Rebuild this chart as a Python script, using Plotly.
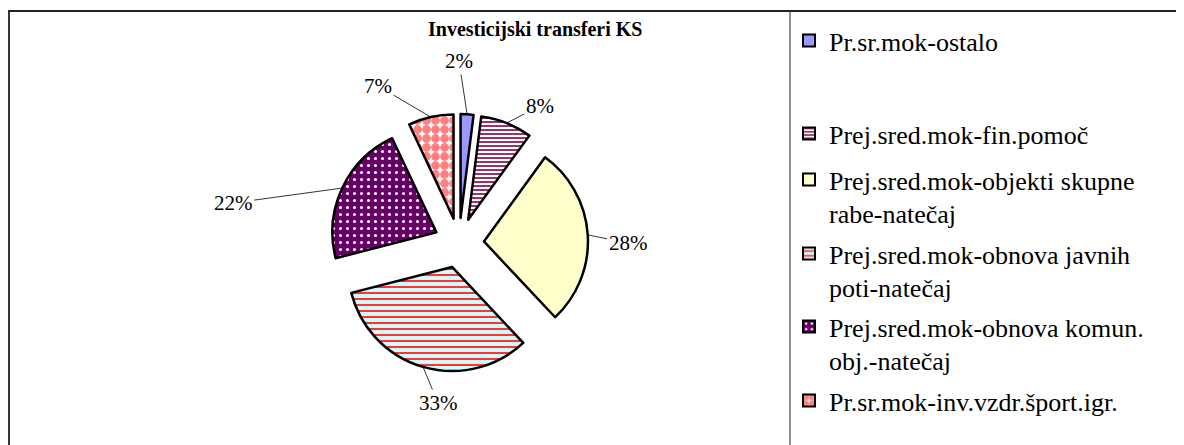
import math
import plotly.graph_objects as go

# ---------------- data ----------------
categories = [
    "Pr.sr.mok-ostalo",
    "Prej.sred.mok-fin.pomoč",
    "Prej.sred.mok-objekti skupne<br>rabe-natečaj",
    "Prej.sred.mok-obnova javnih<br>poti-natečaj",
    "Prej.sred.mok-obnova komun.<br>obj.-natečaj",
    "Pr.sr.mok-inv.vzdr.šport.igr.",
]
values = [2, 8, 28, 33, 22, 7]
title_text = "Investicijski transferi KS"

# ---------------- style ----------------
W, H = 1184, 445
OFF = 8  # page body margin
def px2x(sx):
    return (sx - OFF) / W
def px2y(sy):
    return 1 - (sy - OFF) / H

colors = ["#9999FF", "#FFFFFF", "#FFFFCC", "#CCFFFF", "#660066", "#FFFFFF"]
pat_shapes = ["", "-", "", "-", ".", "."]
pat_fg = ["#9999FF", "#993366", "#FFFFCC", "#FF3333", "#FFFFFF", "#FF8080"]
pat_bg = ["#9999FF", "#FFFFFF", "#FFFFCC", "#CCFFFF", "#660066", "#FFFFFF"]
pat_size = [8, 4, 8, 6, 7, 9]
pat_solid = [0.3, 0.5, 0.3, 0.35, 0.15, 0.75]
pull = 0.24
dom_px = (330, 114, 588, 372)  # screen px: left, top, right, bottom
label_px = [(459, 61), (540, 106), (628, 243), (438, 403), (233, 203), (378, 86)]
legend_line_px = [42, 135, 181, 255, 328, 402]  # screen y of first text line
legend_left_px = 789
serif = "Liberation Serif"

patterns = [dict(shape=s, fgcolor=fg, bgcolor=bg, size=sz, solidity=so, fillmode="replace")
            for s, fg, bg, sz, so in zip(pat_shapes, pat_fg, pat_bg, pat_size, pat_solid)]

fig = go.Figure()
fig.add_trace(go.Pie(
    labels=categories,
    values=values,
    sort=False,
    direction="clockwise",
    rotation=0,
    pull=[pull] * len(values),
    textinfo="none",
    hoverinfo="skip",
    showlegend=False,
    marker=dict(
        colors=colors,
        line=dict(color="black", width=2.5),
        pattern=dict(shape=pat_shapes, fgcolor=pat_fg, bgcolor=pat_bg,
                     size=pat_size, solidity=pat_solid, fillmode="replace"),
    ),
    domain=dict(x=[px2x(dom_px[0]), px2x(dom_px[2])],
                y=[px2y(dom_px[3]), px2y(dom_px[1])]),
))

# legend entries (one legend per entry, to reproduce the uneven spacing)
legends = {}
for i, name in enumerate(categories):
    lg = "legend" if i == 0 else f"legend{i + 1}"
    fig.add_trace(go.Bar(
        x=[0], y=[0], name=name, legend=lg, showlegend=True, hoverinfo="skip",
        marker=dict(color=colors[i], line=dict(color="black", width=2),
                    pattern=patterns[i]),
    ))
    legends[lg] = dict(
        x=px2x(legend_left_px), y=px2y(legend_line_px[i] - 25),
        xanchor="left", yanchor="top",
        font=dict(family=serif, size=26, color="black"),
        valign="top", bgcolor="rgba(0,0,0,0)",
        itemclick=False, itemdoubleclick=False,
    )

# leader-line anchors derived from the slice geometry
cx = (dom_px[0] + dom_px[2]) / 2
cy = (dom_px[1] + dom_px[3]) / 2
r_out = min(dom_px[2] - dom_px[0], dom_px[3] - dom_px[1]) / 2  # radius incl. pull
total = sum(values)
cum = 0
annotations = []
for v, (lx, ly) in zip(values, label_px):
    mid = (cum + v / 2) / total * 2 * math.pi
    cum += v
    axp = cx + r_out * math.sin(mid)
    ayp = cy - r_out * math.cos(mid)
    annotations.append(dict(
        x=px2x(axp), y=px2y(ayp), xref="paper", yref="paper",
        ax=lx - axp, ay=ly - ayp, axref="pixel", ayref="pixel",
        text=f"{round(v / total * 100)}%",
        showarrow=True, arrowhead=0, arrowwidth=0.8, arrowcolor="black",
        standoff=0, startstandoff=0,
        font=dict(family=serif, size=21, color="black"),
    ))

annotations.append(dict(
    x=px2x(535), y=px2y(30), xref="paper", yref="paper",
    xanchor="center", yanchor="middle",
    text=f"<b>{title_text}</b>", showarrow=False,
    font=dict(family=serif, size=20, color="black"),
))

shapes = [
    dict(type="rect", xref="paper", yref="paper",
         x0=px2x(9), x1=1.05, y0=-0.05, y1=px2y(11),
         line=dict(color="#222222", width=1.8)),
    dict(type="line", xref="paper", yref="paper",
         x0=px2x(790), x1=px2x(790), y0=-0.05, y1=px2y(11),
         line=dict(color="#222222", width=1)),
]

fig.update_layout(
    width=W, height=H, autosize=False,
    margin=dict(l=0, r=0, t=0, b=0),
    paper_bgcolor="white", plot_bgcolor="rgba(0,0,0,0)",
    annotations=annotations, shapes=shapes,
    showlegend=True,
    xaxis=dict(visible=False, range=[5, 6]),
    yaxis=dict(visible=False, range=[5, 6]),
    **legends,
)

fig.write_html("out.html")
